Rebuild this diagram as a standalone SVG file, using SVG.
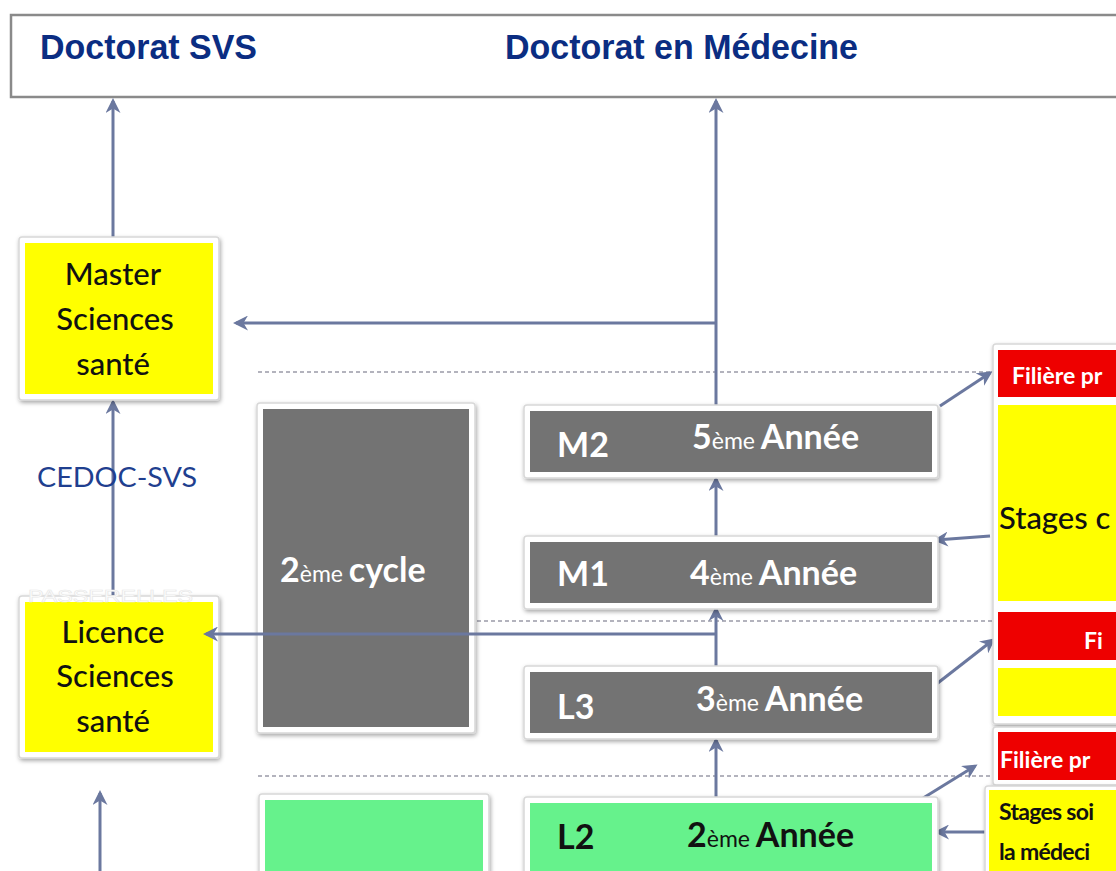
<svg xmlns="http://www.w3.org/2000/svg" width="1116" height="871" viewBox="0 0 1116 871">
  <defs>
    <filter id="shadow" x="-10%" y="-10%" width="120%" height="125%">
      <feDropShadow dx="1" dy="2" stdDeviation="2" flood-color="#000" flood-opacity="0.35"/>
    </filter>
    <marker id="arrow" viewBox="0 0 10 10" refX="8" refY="5" markerWidth="5" markerHeight="5" orient="auto-start-reverse" markerUnits="strokeWidth">
      <path d="M0,0 L10,5 L0,10 L3,5 Z" fill="#6b789f"/>
    </marker>
    <style>
      .frame { fill:#fff; stroke:#d8d8d8; stroke-width:1.5; filter:url(#shadow); }
      .yellow { fill:#ffff00; }
      .grey { fill:#737373; }
      .green { fill:#66f28c; }
      .red { fill:#ee0000; }
      .conn { stroke:#6b789f; stroke-width:3; fill:none; }
      .dash { stroke:#9a9aa8; stroke-width:1.5; stroke-dasharray:4 3; fill:none; }
      .head { font-family:"Liberation Sans",Arial,sans-serif; font-weight:bold; font-size:35px; fill:#0b2d82; }
      .ybox { font-family:Lato,"Open Sans",sans-serif; font-weight:500; font-size:31px; fill:#111; text-anchor:middle; }
      .wt { font-family:Lato,"Open Sans",sans-serif; font-weight:bold; font-size:34px; fill:#fff; }
      .bt { font-family:Lato,"Open Sans",sans-serif; font-weight:bold; font-size:34px; fill:#111; }
      .sup { font-size:23px; font-weight:normal; }
      .rt { font-family:Lato,"Open Sans",sans-serif; font-weight:bold; font-size:23px; fill:#fff; }
      .sb { font-family:Lato,"Open Sans",sans-serif; font-weight:bold; font-size:23px; fill:#111; letter-spacing:-0.7px; }
    </style>
  </defs>

  <!-- top banner -->
  <g id="doctorat">
    <rect x="11" y="15" width="1120" height="82" fill="#fff" stroke="#8a8a8a" stroke-width="2.5"/>
    <text class="head" x="40" y="59" textLength="217" lengthAdjust="spacingAndGlyphs">Doctorat  SVS</text>
    <text class="head" x="505" y="59" textLength="353" lengthAdjust="spacingAndGlyphs">Doctorat  en Médecine</text>
  </g>

  <!-- level separators -->
  <g id="separators">
    <line class="dash" x1="258" y1="372" x2="1000" y2="372"/>
    <line class="dash" x1="470" y1="621" x2="1000" y2="621"/>
    <line class="dash" x1="258" y1="776" x2="1000" y2="776"/>
  </g>

  <!-- connectors -->
  <g id="connectors">
    <line class="conn" x1="113" y1="238" x2="113" y2="101" marker-end="url(#arrow)"/>
    <line class="conn" x1="716" y1="405" x2="716" y2="101" marker-end="url(#arrow)"/>
    <line class="conn" x1="716" y1="323" x2="236" y2="323" marker-end="url(#arrow)"/>
    <line class="conn" x1="113" y1="595" x2="113" y2="402" marker-end="url(#arrow)"/>
    <line class="conn" x1="100" y1="871" x2="100" y2="793" marker-end="url(#arrow)"/>
    <line class="conn" x1="716" y1="536" x2="716" y2="479" marker-end="url(#arrow)"/>
    <line class="conn" x1="716" y1="666" x2="716" y2="609" marker-end="url(#arrow)"/>
    <line class="conn" x1="716" y1="797" x2="716" y2="740" marker-end="url(#arrow)"/>
    <line class="conn" x1="940" y1="406" x2="990" y2="373" marker-end="url(#arrow)"/>
    <line class="conn" x1="990" y1="536" x2="936" y2="540" marker-end="url(#arrow)"/>
    <line class="conn" x1="916" y1="700" x2="993" y2="640" marker-end="url(#arrow)"/>
    <line class="conn" x1="920" y1="800" x2="975" y2="766" marker-end="url(#arrow)"/>
    <line class="conn" x1="988" y1="832" x2="937" y2="832" marker-end="url(#arrow)"/>
  </g>

  <g id="master">
    <rect class="frame" x="19" y="237" width="200" height="163" rx="3"/>
    <rect class="yellow" x="25" y="243" width="188" height="151"/>
    <text class="ybox" x="113" y="285">Master</text>
    <text class="ybox" x="115" y="330">Sciences</text>
    <text class="ybox" x="113" y="375">santé</text>
  </g>

  <g id="cedoc">
    <text x="37" y="487" font-family="Lato,'Open Sans',sans-serif" font-size="27" fill="#1f3f8f" textLength="160" lengthAdjust="spacingAndGlyphs">CEDOC-SVS</text>
  </g>

  <g id="licence">
    <rect class="frame" x="19" y="596" width="200" height="162" rx="3"/>
    <rect class="yellow" x="25" y="602" width="188" height="150"/>
    <text x="28" y="602" font-family="'Liberation Sans',Arial,sans-serif" font-size="16" fill="#fff" stroke="#e8e8e8" stroke-width="0.6" textLength="165" lengthAdjust="spacingAndGlyphs">PASSERELLES</text>
    <text class="ybox" x="113" y="643">Licence</text>
    <text class="ybox" x="115" y="687">Sciences</text>
    <text class="ybox" x="113" y="732">santé</text>
  </g>

  <g id="cycle2">
    <rect class="frame" x="257" y="403" width="218" height="330" rx="3"/>
    <rect class="grey" x="263" y="409" width="206" height="318"/>
    <text class="wt" x="280" y="582">2<tspan class="sup">ème </tspan>cycle</text>
  </g>

  <!-- Licence link crosses over the 2nd-cycle block -->
  <g id="connectors-front">
    <line class="conn" x1="716" y1="634" x2="206" y2="634" marker-end="url(#arrow)"/>
  </g>

  <g id="m2">
    <rect class="frame" x="524" y="405" width="414" height="73" rx="3"/>
    <rect class="grey" x="530" y="411" width="402" height="61"/>
    <text class="wt" x="557" y="457">M2</text>
    <text class="wt" x="692" y="449">5<tspan class="sup">ème </tspan>Année</text>
  </g>

  <g id="m1">
    <rect class="frame" x="524" y="536" width="414" height="73" rx="3"/>
    <rect class="grey" x="530" y="542" width="402" height="61"/>
    <text class="wt" x="557" y="586">M1</text>
    <text class="wt" x="690" y="585">4<tspan class="sup">ème </tspan>Année</text>
  </g>

  <g id="l3">
    <rect class="frame" x="524" y="666" width="414" height="73" rx="3"/>
    <rect class="grey" x="530" y="672" width="402" height="61"/>
    <text class="wt" x="557" y="719">L3</text>
    <text class="wt" x="696" y="711">3<tspan class="sup">ème </tspan>Année</text>
  </g>

  <g id="l2">
    <rect class="frame" x="524" y="797" width="414" height="90" rx="3"/>
    <rect class="green" x="530" y="803" width="402" height="80"/>
    <text class="bt" x="557" y="849">L2</text>
    <text class="bt" x="687" y="847">2<tspan class="sup">ème </tspan>Année</text>
  </g>

  <g id="cycle1">
    <rect class="frame" x="259" y="794" width="230" height="90" rx="3"/>
    <rect class="green" x="265" y="800" width="218" height="80"/>
  </g>

  <g id="filiere-a">
    <rect class="frame" x="993" y="344" width="130" height="380" rx="3"/>
    <rect class="red" x="998" y="350" width="120" height="47"/>
    <text class="rt" x="1012" y="384">Filière pr</text>
  </g>

  <g id="stages-a">
    <rect class="yellow" x="998" y="405" width="120" height="196"/>
    <text x="999" y="529" font-family="Lato,'Open Sans',sans-serif" font-weight="500" font-size="31" fill="#111">Stages c</text>
  </g>

  <g id="filiere-b">
    <rect class="red" x="998" y="612" width="120" height="48"/>
    <text class="rt" x="1084" y="649">Fi</text>
    <rect class="yellow" x="998" y="668" width="120" height="48"/>
  </g>

  <g id="filiere-c">
    <rect class="frame" x="993" y="727" width="130" height="58" rx="3"/>
    <rect class="red" x="998" y="732" width="120" height="48"/>
    <text class="rt" x="1000" y="768">Filière pr</text>
  </g>

  <g id="stages-b">
    <rect class="frame" x="985" y="786" width="140" height="95" rx="3"/>
    <rect class="yellow" x="989" y="790" width="132" height="90"/>
    <text class="sb" x="999" y="820">Stages soi</text>
    <text class="sb" x="999" y="860">la médeci</text>
  </g>
</svg>
